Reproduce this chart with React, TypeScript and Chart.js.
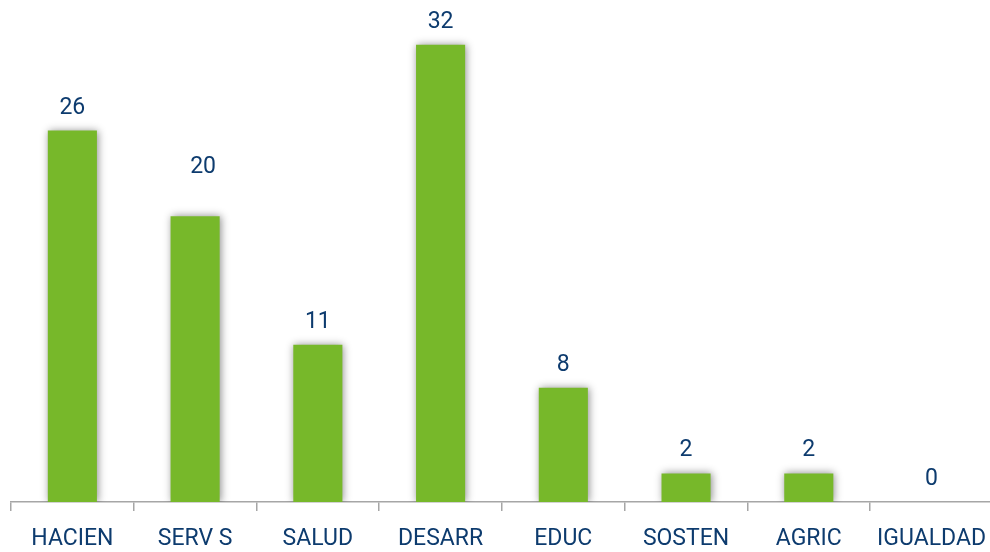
import React, { useEffect, useRef } from "react";
import { Chart, registerables } from "chart.js";

Chart.register(...registerables);

const categories = ["HACIEN", "SERV S", "SALUD", "DESARR", "EDUC", "SOSTEN", "AGRIC", "IGUALDAD"];
const values = [26, 20, 11, 32, 8, 2, 2, 0];

const NAVY = "#0d3b6e";
const GREEN = "#77b82a";
const FONT = "Roboto, 'Open Sans', sans-serif";

const shadowPlugin = {
  id: "barShadow",
  beforeDatasetsDraw(chart: any) {
    const ctx = chart.ctx;
    ctx.save();
    ctx.shadowColor = "rgba(0,0,0,0.45)";
    ctx.shadowBlur = 8;
    ctx.shadowOffsetX = 1;
    ctx.shadowOffsetY = 0;
  },
  afterDatasetsDraw(chart: any) {
    const ctx = chart.ctx;
    ctx.restore();
    ctx.save();
    ctx.fillStyle = NAVY;
    ctx.font = `23px ${FONT}`;
    ctx.textAlign = "center";
    ctx.textBaseline = "alphabetic";
    const meta = chart.getDatasetMeta(0);
    meta.data.forEach((bar: any, i: number) => {
      // the "SERV S" label sits a little higher and to the right in the original
      const dx = i === 1 ? 8 : 0;
      const dy = i === 1 ? 26 : 0;
      ctx.fillText(String(values[i]), bar.x + dx, bar.y - 17 - dy);
    });
    ctx.restore();
  },
};

export default function App() {
  const ref = useRef<HTMLCanvasElement>(null);
  useEffect(() => {
    if (!ref.current) return;
    const chart = new Chart(ref.current, {
      type: "bar",
      data: {
        labels: categories,
        datasets: [
          {
            data: values,
            backgroundColor: GREEN,
            borderWidth: 0,
            categoryPercentage: 1,
            barPercentage: 0.4,
          },
        ],
      },
      options: {
        responsive: false,
        animation: false,
        layout: { padding: { top: 2, bottom: 0, left: 11, right: 0 } },
        plugins: { legend: { display: false }, tooltip: { enabled: false } },
        scales: {
          x: {
            afterFit(scale: any) {
              scale.height = 50;
            },
            grid: {
              display: true,
              drawOnChartArea: false,
              drawTicks: true,
              tickLength: 9,
              color: "#a6a6a6",
              lineWidth: 1.5,
            },
            border: { display: true, color: "#a6a6a6", width: 1.5 },
            ticks: {
              color: NAVY,
              font: { size: 23, family: FONT },
              padding: 14,
              maxRotation: 0,
              autoSkip: false,
            },
          },
          y: {
            display: false,
            min: 0,
            max: 35,
          },
        },
      },
      plugins: [shadowPlugin],
    });
    return () => chart.destroy();
  }, []);
  return (
    <canvas
      ref={ref}
      width={1000}
      height={552}
      style={{ position: "fixed", left: 0, top: 0, width: 1000, height: 552 }}
    />
  );
}
